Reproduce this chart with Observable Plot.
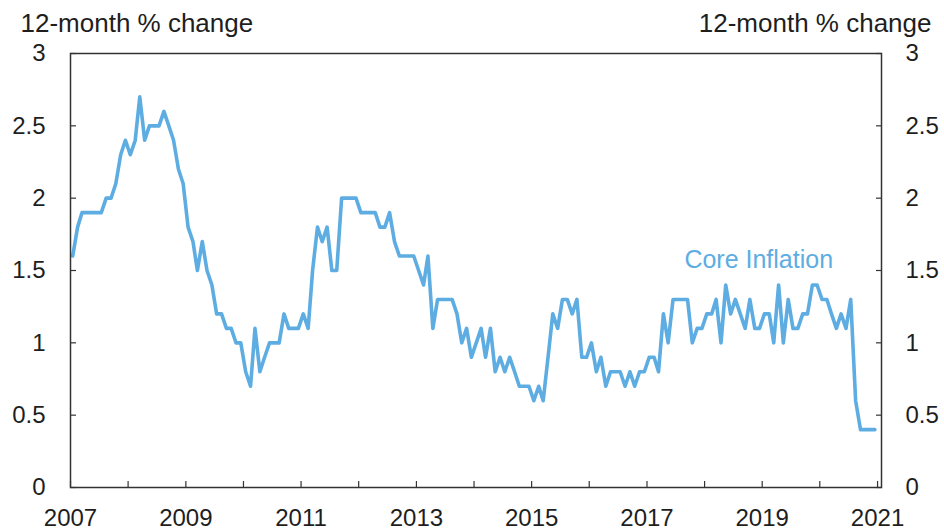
<!DOCTYPE html>
<html>
<head>
<meta charset="utf-8">
<script src="https://cdn.jsdelivr.net/npm/d3@7"></script>
<script src="https://cdn.jsdelivr.net/npm/@observablehq/plot@0.6"></script>
<style>
  html, body { margin: 0; padding: 0; background: #ffffff; }
  #chart { width: 944px; height: 532px; }
</style>
</head>
<body>
<div id="chart"></div>
<script>
// ---- Data (12-month % change, monthly) ----
const startYear = 2007;
const values2007 = [1.6, 1.8, 1.9, 1.9, 1.9, 1.9, 1.9, 2.0, 2.0, 2.1, 2.3, 2.4];
const values2008 = [2.3, 2.4, 2.7, 2.4, 2.5, 2.5, 2.5, 2.6, 2.5, 2.4, 2.2, 2.1];
const values2009 = [1.8, 1.7, 1.5, 1.7, 1.5, 1.4, 1.2, 1.2, 1.1, 1.1, 1.0, 1.0];
const values2010 = [0.8, 0.7, 1.1, 0.8, 0.9, 1.0, 1.0, 1.0, 1.2, 1.1, 1.1, 1.1];
const values2011 = [1.2, 1.1, 1.5, 1.8, 1.7, 1.8, 1.5, 1.5, 2.0, 2.0, 2.0, 2.0];
const values2012 = [1.9, 1.9, 1.9, 1.9, 1.8, 1.8, 1.9, 1.7, 1.6, 1.6, 1.6, 1.6];
const values2013 = [1.5, 1.4, 1.6, 1.1, 1.3, 1.3, 1.3, 1.3, 1.2, 1.0, 1.1, 0.9];
const values2014 = [1.0, 1.1, 0.9, 1.1, 0.8, 0.9, 0.8, 0.9, 0.8, 0.7, 0.7, 0.7];
const values2015 = [0.6, 0.7, 0.6, 0.9, 1.2, 1.1, 1.3, 1.3, 1.2, 1.3, 0.9, 0.9];
const values2016 = [1.0, 0.8, 0.9, 0.7, 0.8, 0.8, 0.8, 0.7, 0.8, 0.7, 0.8, 0.8];
const values2017 = [0.9, 0.9, 0.8, 1.2, 1.0, 1.3, 1.3, 1.3, 1.3, 1.0, 1.1, 1.1];
const values2018 = [1.2, 1.2, 1.3, 1.0, 1.4, 1.2, 1.3, 1.2, 1.1, 1.3, 1.1, 1.1];
const values2019 = [1.2, 1.2, 1.0, 1.4, 1.0, 1.3, 1.1, 1.1, 1.2, 1.2, 1.4, 1.4];
const values2020 = [1.3, 1.3, 1.2, 1.1, 1.2, 1.1, 1.3, 0.6, 0.4, 0.4, 0.4, 0.4];

const seriesName = "Core Inflation";
const axisTitle = "12-month % change";
const yTicks = [0, 0.5, 1, 1.5, 2, 2.5, 3];
const xTickYears = [2007, 2008, 2009, 2010, 2011, 2012, 2013, 2014, 2015, 2016, 2017, 2018, 2019, 2020, 2021];
const xLabelYears = [2007, 2009, 2011, 2013, 2015, 2017, 2019, 2021];

// ---- Build table ----
const yearly = [values2007, values2008, values2009, values2010, values2011, values2012, values2013,
                values2014, values2015, values2016, values2017, values2018, values2019, values2020];
const data = yearly.flatMap((vals, i) =>
  vals.map((v, m) => ({date: new Date(Date.UTC(startYear + i, m, 15)), value: v}))
);
const yearDate = y => new Date(Date.UTC(y, 0, 1));
const tickDates = xTickYears.map(yearDate);
const labelDates = xLabelYears.map(yearDate);

const lineColor = "#5dade2";
const inkColor = "#1e1e1e";
const frameColor = "#333333";
const font = "'Liberation Sans', Arial, Helvetica, sans-serif";

const chart = Plot.plot({
  width: 944,
  height: 532,
  marginLeft: 70,
  marginRight: 63,
  marginTop: 53,
  marginBottom: 45,
  style: {fontFamily: font, fontSize: "24px", color: inkColor, background: "#ffffff"},
  x: {type: "utc", domain: [new Date(Date.UTC(2007, 0, 1)), new Date(Date.UTC(2021, 0, 26))], label: null},
  y: {domain: [0, 3], label: null},
  marks: [
    Plot.line(data, {x: "date", y: "value", stroke: lineColor, strokeWidth: 3.6}),
    Plot.frame({stroke: frameColor, strokeWidth: 1.5}),
    // bottom axis: inward ticks every year, labels every two years
    Plot.axisX({ticks: tickDates, tickSize: -6, tickFormat: () => "", stroke: frameColor, strokeWidth: 1.2, label: null}),
    Plot.axisX({ticks: labelDates, tickSize: 0, tickPadding: 21, tickFormat: d => String(d.getUTCFullYear()),
                fontSize: 24, fill: inkColor, label: null}),
    // left axis
    Plot.axisY({anchor: "left", ticks: yTicks, tickSize: -6, tickFormat: () => "", stroke: frameColor, strokeWidth: 1.2, label: null}),
    Plot.axisY({anchor: "left", ticks: yTicks, tickSize: 0, tickPadding: 25, tickFormat: d => String(d),
                fontSize: 24, fill: inkColor, label: null}),
    // right axis
    Plot.axisY({anchor: "right", ticks: yTicks, tickSize: -6, tickFormat: () => "", stroke: frameColor, strokeWidth: 1.2, label: null}),
    Plot.axisY({anchor: "right", ticks: yTicks, tickSize: 0, tickPadding: 24, tickFormat: d => String(d),
                fontSize: 24, fill: inkColor, label: null}),
    // axis titles
    Plot.text([axisTitle], {frameAnchor: "top-left", textAnchor: "start", lineAnchor: "bottom",
                            dx: -50, dy: -22, fontSize: 26, fill: inkColor}),
    Plot.text([axisTitle], {frameAnchor: "top-right", textAnchor: "end", lineAnchor: "bottom",
                            dx: 50, dy: -22, fontSize: 26, fill: inkColor}),
    // series label
    Plot.text([seriesName], {x: () => new Date(Date.UTC(2018, 11, 10)), y: () => 1.57,
                             fontSize: 25, fill: lineColor})
  ]
});
document.getElementById("chart").appendChild(chart);
</script>
</body>
</html>
